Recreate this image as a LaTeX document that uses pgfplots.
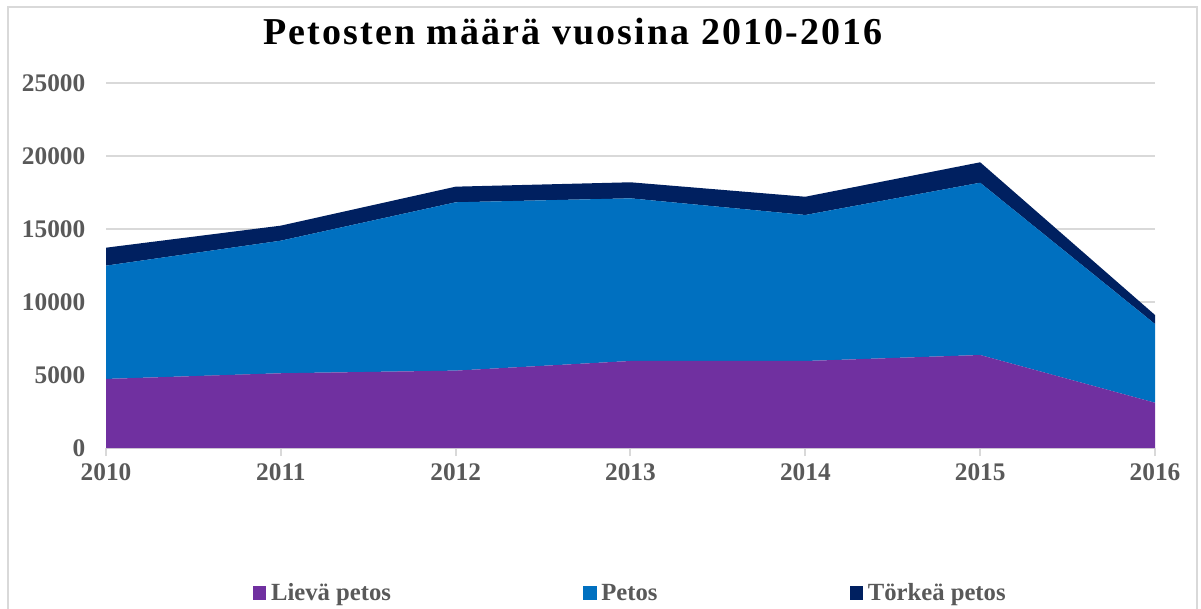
\documentclass[border=0pt]{standalone}
\usepackage{fontspec}
\setmainfont{Liberation Serif}
\newfontfamily\titlefont[LetterSpace=5.5]{Liberation Serif}
\usepackage{pgfplots}
\usepackage{pgfplotstable}
\pgfplotsset{compat=1.18}
\definecolor{lieva}{HTML}{7030A0}
\definecolor{petos}{HTML}{0070C0}
\definecolor{torkea}{HTML}{002060}
\definecolor{lbl}{HTML}{595959}
\definecolor{grd}{HTML}{D9D9D9}
\pgfplotstableread{
year lieva petos torkea
2010 4730 7760 1230
2011 5120 9080 1030
2012 5300 11530 1070
2013 5960 11140 1100
2014 5960 10000 1250
2015 6370 11800 1400
2016 3100 5390 620
}\data
\begin{document}
\begin{tikzpicture}
\useasboundingbox (0,0) rectangle (900.75pt,456pt);
\draw[grd, line width=1.5pt] (6pt,-10pt) rectangle (897.75pt,450.75pt);
\node[anchor=base, font=\titlefont\fontsize{28.5}{30}\selectfont\bfseries] at (429.75pt,422.25pt) {Petosten määrä vuosina 2010-2016};
\begin{axis}[
  at={(79.5pt,120pt)}, anchor=south west,
  width=786.75pt, height=273.75pt, scale only axis,
  xmin=2010, xmax=2016, ymin=0, ymax=25000,
  xtick={2010,2011,...,2016}, ytick={0,5000,...,25000},
  scaled y ticks=false,
  stack plots=y,
  axis x line*=bottom, axis y line*=left,
  y axis line style={draw=none},
  x axis line style={draw=grd, line width=1.5pt},
  ytick style={draw=none},
  xtick style={draw=grd, line width=1.5pt},
  tick align=outside, major tick length=6pt,
  ymajorgrids, grid style={draw=grd, line width=1.5pt},
  /pgf/number format/1000 sep={},
  /pgf/number format/assume math mode=true,
  tick label style={font=\fontsize{19}{19}\selectfont\bfseries, text=lbl},
  yticklabel style={xshift=-6pt},
  xticklabel style={yshift=-2pt},
  legend columns=3,
  legend style={at={(0.5,0)}, anchor=center, yshift=-108.75pt, draw=none,
    font=\fontsize{18.5}{19}\selectfont\bfseries, text=lbl,
    /tikz/every even column/.append style={column sep=142pt},
    /tikz/every odd column/.append style={column sep=1.5pt}},
  legend image code/.code={\fill[#1] (0pt,-5pt) rectangle (10.3pt,5pt);},
]
\addplot[fill=lieva, draw=none] table[x=year, y=lieva]{\data} \closedcycle;
\addplot[fill=petos, draw=none] table[x=year, y=petos]{\data} \closedcycle;
\addplot[fill=torkea, draw=none] table[x=year, y=torkea]{\data} \closedcycle;
\legend{Lievä petos, Petos, Törkeä petos}
\end{axis}
\end{tikzpicture}
\end{document}
